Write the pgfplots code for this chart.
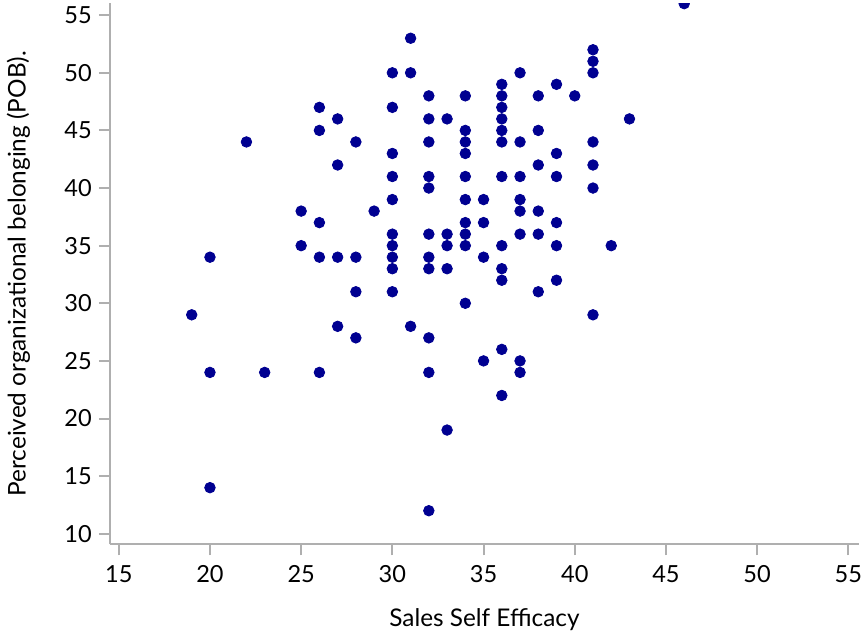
\documentclass[border=0pt]{standalone}
\usepackage{fontspec}
\setmainfont{Lato}
\usepackage{pgfplots}
\pgfplotsset{compat=1.18}
\definecolor{dotblue}{RGB}{0,0,145}
\definecolor{axgray}{RGB}{175,175,175}
\begin{document}
\begin{tikzpicture}
\begin{axis}[
  scale only axis,
  width=375.5pt, height=271.25pt,
  xmin=14.51, xmax=55.59,
  ymin=9.08, ymax=56.05,
  axis x line*=bottom, axis y line*=left,
  axis line style={-, axgray, line width=1.1pt},
  xtick={15,20,...,55}, ytick={10,15,...,55},
  tick align=outside,
  major tick length=5.5pt,
  tick style={axgray, line width=1pt},
  minor tick num=0,
  /pgf/number format/assume math mode=true,
  ticklabel style={font=\fontsize{11.8}{14}\selectfont, text=black},
  xticklabel style={inner xsep=0pt, yshift=-1.5pt},
  label style={font=\fontsize{12.2}{14}\selectfont, text=black},
  xlabel={Sales Self Efficacy},
  ylabel={Perceived organizational belonging (POB).},
  xlabel style={at={(axis description cs:0.5,-0.152)}, anchor=base},
  ylabel style={at={(axis description cs:-0.1125,0.5)}, anchor=base, rotate=0},
  clip marker paths=true,
]
\addplot[overlay, only marks, mark=*, mark size=2.65pt, color=dotblue, mark options={draw=dotblue, fill=dotblue}] coordinates {
(19,29)
(20,34) (20,24) (20,14)
(22,44)
(23,24)
(25,38) (25,35)
(26,47) (26,45) (26,37) (26,34) (26,24)
(27,46) (27,42) (27,34) (27,28)
(28,44) (28,34) (28,31) (28,27)
(29,38)
(30,50) (30,47) (30,43) (30,41) (30,39) (30,36) (30,35) (30,34) (30,33) (30,31)
(31,53) (31,50) (31,28)
(32,48) (32,46) (32,44) (32,41) (32,40) (32,36) (32,34) (32,33) (32,27) (32,24) (32,12)
(33,46) (33,36) (33,35) (33,33) (33,19)
(34,48) (34,45) (34,44) (34,43) (34,41) (34,39) (34,37) (34,36) (34,35) (34,30)
(35,39) (35,37) (35,34) (35,25)
(36,49) (36,48) (36,47) (36,46) (36,45) (36,44) (36,41) (36,35) (36,33) (36,32) (36,26) (36,22)
(37,50) (37,44) (37,41) (37,39) (37,38) (37,36) (37,25) (37,24)
(38,48) (38,45) (38,42) (38,38) (38,36) (38,31)
(39,49) (39,43) (39,41) (39,37) (39,35) (39,32)
(40,48)
(41,52) (41,51) (41,50) (41,44) (41,42) (41,40) (41,29)
(42,35)
(43,46)
(46,56)
};
\end{axis}
\end{tikzpicture}
\end{document}
